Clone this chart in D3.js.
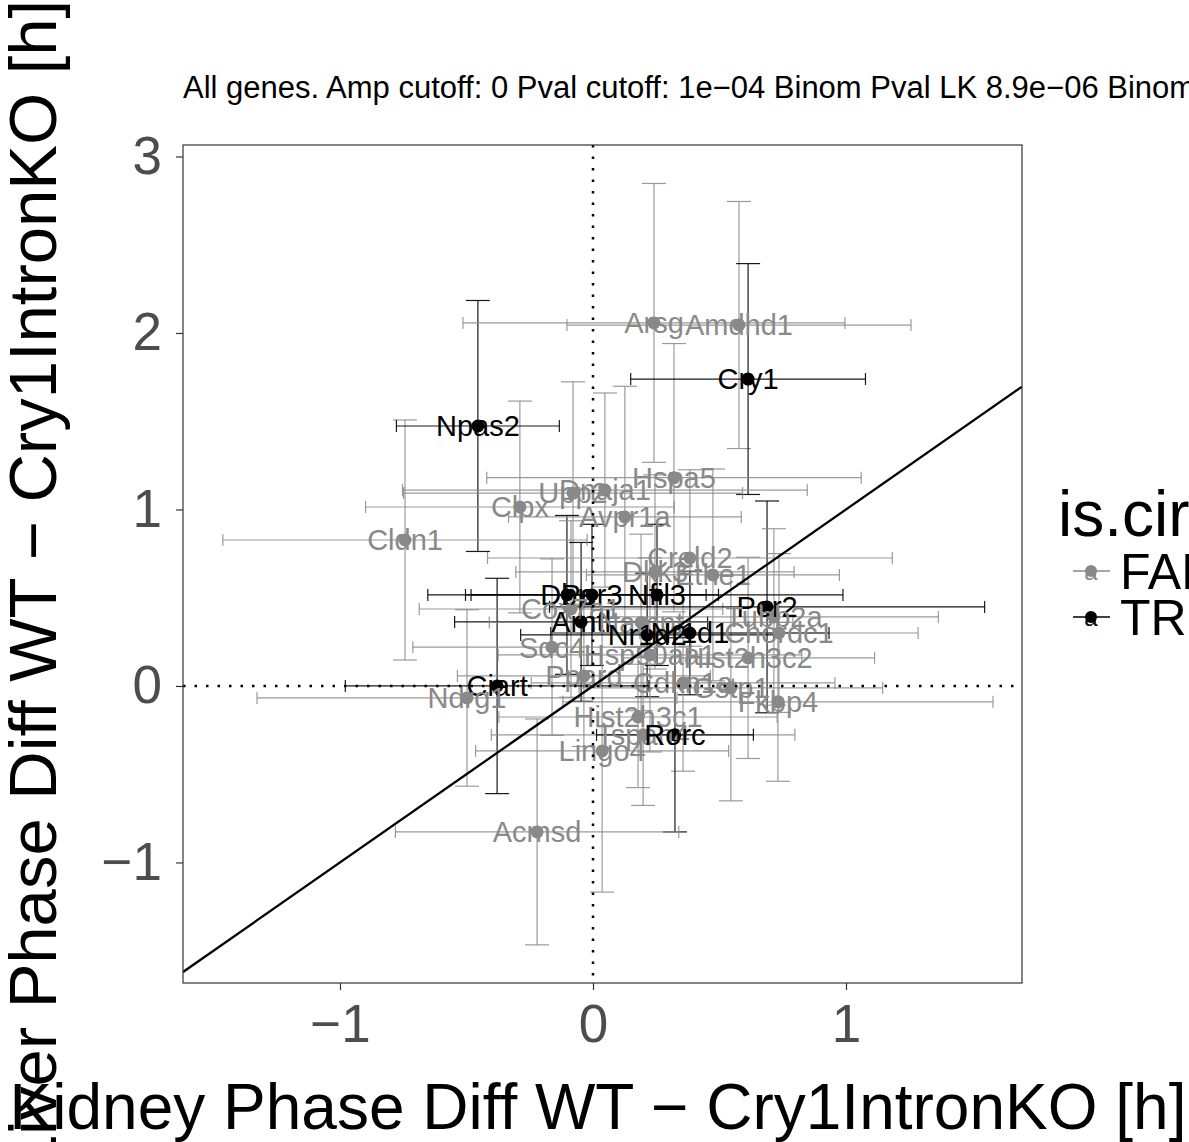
<!DOCTYPE html>
<html>
<head>
<meta charset="utf-8">
<script src="https://cdn.jsdelivr.net/npm/d3@7"></script>
<style>
  body { margin: 0; background: #fff; }
  text { font-family: "Liberation Sans", Arial, sans-serif; }
</style>
</head>
<body>
<div class="canvas"></div>
<script>
// values (hours)
const genes = ['Arsg', 'Amdhd1', 'Cry1', 'Npas2', 'Hspa5', 'Upp2', 'Dnaja1', 'Clpx', 'Avpr1a', 'Cldn1',
  'Creld2', 'Dkk3', 'Ethe1', 'Dbp', 'Per3', 'Nfil3', 'Cox7a1', 'Arntl', 'Nampt', 'Per2',
  'Tubb2a', 'Chordc1', 'Nr1d2', 'Nr1d1', 'Sdc4', 'Hsp90aa1', 'Hist2h3c2', 'Ppard', 'Cdkn1a', 'Gstp1',
  'Ciart', 'Fkbp4', 'Ndrg1', 'Hist2h3c1', 'Tspan4', 'Rorc', 'Lingo4', 'Acmsd'];
const kidneyDiff = [0.241, 0.577, 0.613, -0.455, 0.32, -0.079, 0.047, -0.289, 0.126, -0.743,
  0.383, 0.245, 0.474, -0.103, -0.004, 0.253, -0.087, -0.047, 0.19, 0.688,
  0.715, 0.735, 0.214, 0.383, -0.162, 0.225, 0.613, -0.036, 0.356, 0.545,
  -0.379, 0.731, -0.498, 0.178, 0.198, 0.324, 0.036, -0.221];
const liverDiff = [2.057, 2.045, 1.739, 1.473, 1.18, 1.093, 1.11, 1.014, 0.958, 0.827,
  0.725, 0.646, 0.629, 0.516, 0.516, 0.516, 0.436, 0.363, 0.36, 0.448,
  0.391, 0.3, 0.289, 0.3, 0.22, 0.176, 0.159, 0.057, 0.017, -0.011,
  0, -0.09, -0.068, -0.176, -0.277, -0.277, -0.368, -0.827];
const kidneyErr = [0.755, 0.68, 0.464, 0.322, 0.74, 0.67, 0.8, 0.61, 0.46, 0.72,
  0.8, 0.55, 0.5, 0.55, 0.5, 0.735, 0.6, 0.5, 0.6, 0.86,
  0.65, 0.55, 0.5, 0.55, 0.55, 0.6, 0.5, 0.5, 0.6, 0.6,
  0.6, 0.85, 0.83, 0.55, 0.6, 0.31, 0.5, 0.56];
const liverErr = [0.79, 0.7, 0.654, 0.711, 0.76, 0.63, 0.55, 0.6, 0.74, 0.68,
  0.5, 0.55, 0.6, 0.45, 0.4, 0.4, 0.5, 0.45, 0.5, 0.6,
  0.5, 0.45, 0.35, 0.35, 0.5, 0.55, 0.57, 0.4, 0.5, 0.64,
  0.61, 0.45, 0.5, 0.4, 0.4, 0.55, 0.8, 0.64];
const isCirc = [false, false, true, true, false, false, false, false, false, false,
  false, false, false, true, true, true, false, true, false, true,
  false, false, true, true, false, false, false, false, false, false,
  true, false, false, false, false, true, false, false];

const xTicks = [-1, 0, 1];
const yTicks = [-1, 0, 1, 2, 3];
const legendLevels = ['FALSE', 'TRUE'];

const titleText = 'All genes. Amp cutoff: 0 Pval cutoff: 1e\u221204 Binom Pval LK 8.9e\u221206 Binom Pval KL';
const xLabel = 'Kidney Phase Diff WT \u2212 Cry1IntronKO [h]';
const yLabel = 'Liver Phase Diff WT \u2212 Cry1IntronKO [h]';

const width = 1189;
const height = 1142;
const panel = { left: 183, right: 1022, top: 145, bottom: 983 };

const data = genes.map((g, i) => ({
  name: g,
  x: kidneyDiff[i],
  y: liverDiff[i],
  xe: kidneyErr[i],
  ye: liverErr[i],
  circ: isCirc[i]
}));

const color = d3.scaleOrdinal().domain(legendLevels).range(['#898989', '#000000']);
const col = d => color(d.circ ? 'TRUE' : 'FALSE');

const x = d3.scaleLinear().domain([-1.6206, 1.6957]).range([panel.left, panel.right]);
const y = d3.scaleLinear().domain([-1.683, 3.065]).range([panel.bottom, panel.top]);

const svg = d3
  .select('.canvas')
  .append('svg')
  .attr('width', width)
  .attr('height', height);

// title
svg
  .append('text')
  .attr('x', panel.left)
  .attr('y', 98)
  .attr('font-size', 31)
  .text(titleText);

const graph = svg.append('g');

// vertical error bars
const capW = 6;
const vbar = graph.selectAll('g.vbar').data(data).enter().append('g')
  .attr('stroke', col)
  .attr('stroke-width', 1.2)
  .attr('stroke-opacity', d => (d.circ ? 0.9 : 0.85));
vbar.append('line')
  .attr('x1', d => x(d.x)).attr('x2', d => x(d.x))
  .attr('y1', d => y(d.y - d.ye)).attr('y2', d => y(d.y + d.ye));
vbar.append('line')
  .attr('x1', d => x(d.x) - capW * 2).attr('x2', d => x(d.x) + capW * 2)
  .attr('y1', d => y(d.y + d.ye)).attr('y2', d => y(d.y + d.ye));
vbar.append('line')
  .attr('x1', d => x(d.x) - capW * 2).attr('x2', d => x(d.x) + capW * 2)
  .attr('y1', d => y(d.y - d.ye)).attr('y2', d => y(d.y - d.ye));

// horizontal error bars
const hbar = graph.selectAll('g.hbar').data(data).enter().append('g')
  .attr('stroke', col)
  .attr('stroke-width', 1.2)
  .attr('stroke-opacity', d => (d.circ ? 0.9 : 0.85));
hbar.append('line')
  .attr('x1', d => x(d.x - d.xe)).attr('x2', d => x(d.x + d.xe))
  .attr('y1', d => y(d.y)).attr('y2', d => y(d.y));
hbar.append('line')
  .attr('x1', d => x(d.x - d.xe)).attr('x2', d => x(d.x - d.xe))
  .attr('y1', d => y(d.y) - capW).attr('y2', d => y(d.y) + capW);
hbar.append('line')
  .attr('x1', d => x(d.x + d.xe)).attr('x2', d => x(d.x + d.xe))
  .attr('y1', d => y(d.y) - capW).attr('y2', d => y(d.y) + capW);

// points
graph.selectAll('circle.pt').data(data).enter().append('circle')
  .attr('class', 'pt')
  .attr('cx', d => x(d.x))
  .attr('cy', d => y(d.y))
  .attr('r', 6.5)
  .attr('fill', col);

// labels
graph.selectAll('text.lab').data(data).enter().append('text')
  .attr('class', 'lab')
  .attr('x', d => x(d.x))
  .attr('y', d => y(d.y))
  .attr('dy', '0.36em')
  .attr('text-anchor', 'middle')
  .attr('font-size', 29)
  .attr('fill', col)
  .text(d => d.name);

// identity line, clipped to the panel
svg.append('clipPath').attr('id', 'clip')
  .append('rect')
  .attr('x', panel.left).attr('y', panel.top)
  .attr('width', panel.right - panel.left).attr('height', panel.bottom - panel.top);

const xd = x.domain();
svg.append('line')
  .attr('clip-path', 'url(#clip)')
  .attr('x1', x(xd[0])).attr('y1', y(xd[0]))
  .attr('x2', x(xd[1])).attr('y2', y(xd[1]))
  .attr('stroke', '#000')
  .attr('stroke-width', 2.3);

// dotted zero lines
svg.append('line')
  .attr('x1', x(0)).attr('x2', x(0))
  .attr('y1', panel.top).attr('y2', panel.bottom)
  .attr('stroke', '#000').attr('stroke-width', 2.5)
  .attr('stroke-dasharray', '2.5,9');
svg.append('line')
  .attr('x1', panel.left).attr('x2', panel.right)
  .attr('y1', y(0)).attr('y2', y(0))
  .attr('stroke', '#000').attr('stroke-width', 2.5)
  .attr('stroke-dasharray', '2.5,9');

// panel border
svg.append('rect')
  .attr('x', panel.left).attr('y', panel.top)
  .attr('width', panel.right - panel.left).attr('height', panel.bottom - panel.top)
  .attr('fill', 'none')
  .attr('stroke', '#333')
  .attr('stroke-width', 1.2);

// axes
const xAxis = svg.append('g')
  .attr('transform', `translate(0, ${panel.bottom})`)
  .call(d3.axisBottom(x).tickValues(xTicks).tickSize(7).tickPadding(14).tickFormat(d3.format('d')));
const yAxis = svg.append('g')
  .attr('transform', `translate(${panel.left}, 0)`)
  .call(d3.axisLeft(y).tickValues(yTicks).tickSize(7).tickPadding(14).tickFormat(d3.format('d')));
[xAxis, yAxis].forEach(a => {
  a.select('.domain').remove();
  a.selectAll('line').attr('stroke', '#333').attr('stroke-width', 1.2);
  a.selectAll('text')
    .attr('fill', '#4d4d4d')
    .attr('font-size', 53)
    .attr('font-family', '"Liberation Sans", Arial, sans-serif');
});

// axis titles
svg.append('text')
  .attr('x', 598)
  .attr('y', 1129)
  .attr('text-anchor', 'middle')
  .attr('font-size', 64)
  .text(xLabel);
svg.append('text')
  .attr('transform', 'translate(56, 586) rotate(-90)')
  .attr('text-anchor', 'middle')
  .attr('font-size', 67)
  .text(yLabel);

// legend
const legendGroup = svg.append('g');
legendGroup.append('text')
  .attr('x', 1058)
  .attr('y', 536)
  .attr('font-size', 64)
  .text('is.circ');
const keys = legendGroup.selectAll('g.key').data(legendLevels).enter().append('g')
  .attr('transform', (d, i) => `translate(0, ${571 + i * 46})`);
keys.append('line')
  .attr('x1', 1073).attr('x2', 1110)
  .attr('stroke', d => color(d)).attr('stroke-width', 1.5);
keys.append('circle')
  .attr('cx', 1091).attr('r', 6)
  .attr('fill', d => color(d));
keys.append('text')
  .attr('x', 1091).attr('dy', '0.36em')
  .attr('text-anchor', 'middle')
  .attr('font-size', 24)
  .attr('fill', d => color(d))
  .text('a');
keys.append('text')
  .attr('x', 1120).attr('dy', '0.36em')
  .attr('font-size', 50)
  .text(d => d);
</script>
</body>
</html>
